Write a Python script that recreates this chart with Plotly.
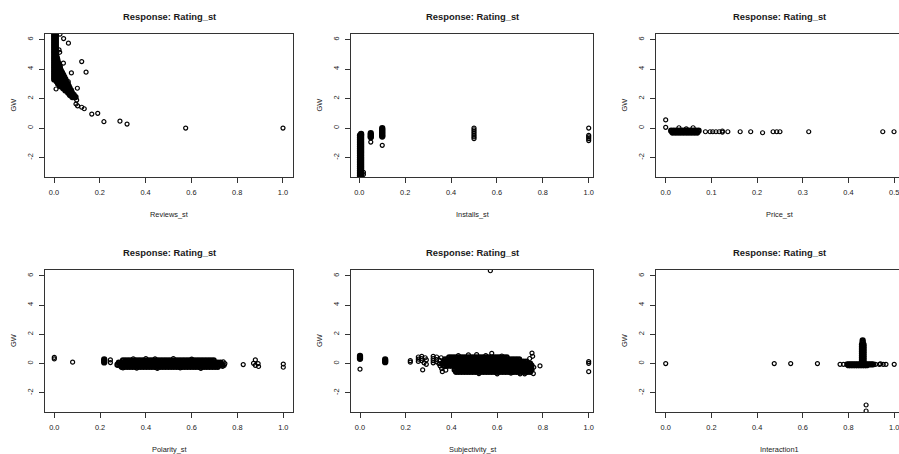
import plotly.graph_objects as go

# ------------------------------------------------------------------
# Partial-residual style scatter: GW against each standardised predictor
# Dense clusters are stored as rows of points sharing one GW reading,
# isolated points as plain x / GW lists.
# ------------------------------------------------------------------

# Reviews_st
reviews_rows = [
    (6.45, [0.001, 0.008]), (6.30, [0.001, 0.008]), (6.15, [0.001, 0.008]),
    (6.00, [0.001, 0.008]), (5.85, [0.001, 0.008]), (5.70, [0.001, 0.008]),
    (5.55, [0.001, 0.008]), (5.40, [0.001, 0.008]), (5.25, [0.001, 0.008]),
    (5.10, [0.001, 0.008]), (4.95, [0.001, 0.008]),
    (4.80, [0.001, 0.008, 0.012]),
    (4.65, [0.001, 0.008, 0.014]),
    (4.50, [0.001, 0.008, 0.016]),
    (4.35, [0.001, 0.008, 0.015, 0.021]),
    (4.20, [0.001, 0.008, 0.017, 0.025]),
    (4.05, [0.001, 0.008, 0.016, 0.026]),
    (3.90, [0.001, 0.008, 0.020, 0.030]),
    (3.75, [0.001, 0.008, 0.016, 0.026, 0.035]),
    (3.60, [0.001, 0.008, 0.020, 0.030, 0.040]),
    (3.45, [0.001, 0.008, 0.016, 0.026, 0.036, 0.045]),
    (3.30, [0.001, 0.008, 0.020, 0.030, 0.040, 0.050]),
    (3.15, [0.012, 0.022, 0.032, 0.042, 0.052]),
    (3.00, [0.018, 0.028, 0.038, 0.048, 0.060]),
    (2.85, [0.026, 0.036, 0.046, 0.056, 0.064]),
    (2.70, [0.040, 0.050, 0.060, 0.068]),
    (2.55, [0.050, 0.058, 0.066, 0.074]),
    (2.40, [0.062, 0.070, 0.078]),
    (2.25, [0.070, 0.078, 0.086]),
    (2.10, [0.080, 0.088, 0.094]),
]
reviews_x = [0.026, 0.042, 0.063, 0.022, 0.025, 0.041, 0.121, 0.140, 0.076,
             0.062, 0.102, 0.009, 0.074, 0.092, 0.099, 0.096, 0.103, 0.121,
             0.132, 0.165, 0.191, 0.218, 0.288, 0.319, 0.575, 1.000]
reviews_gw = [6.37, 6.07, 5.76, 5.30, 5.14, 4.40, 4.51, 3.79, 3.74,
              3.15, 2.70, 2.65, 2.36, 2.13, 1.90, 1.63, 1.50, 1.41,
              1.31, 0.95, 1.00, 0.43, 0.47, 0.27, 0.00, 0.00]

# Installs_st
installs_rows = [
    (-0.40, [0.008]),
    (-0.50, [0.003, 0.008]), (-0.65, [0.003, 0.008]), (-0.80, [0.003, 0.008]),
    (-0.95, [0.003, 0.008]), (-1.10, [0.003, 0.008]), (-1.25, [0.003, 0.008]),
    (-1.40, [0.003, 0.008]), (-1.55, [0.003, 0.008]), (-1.70, [0.003, 0.008]),
    (-1.85, [0.003, 0.008]), (-2.00, [0.003, 0.008]), (-2.15, [0.003, 0.008]),
    (-2.30, [0.003, 0.008]), (-2.45, [0.003, 0.008]), (-2.60, [0.003, 0.008]),
    (-2.75, [0.003, 0.008]), (-2.90, [0.003, 0.008]), (-3.05, [0.003, 0.008]),
    (-3.20, [0.003, 0.008]), (-3.35, [0.003, 0.008]), (-3.50, [0.003, 0.008]),
    (-0.35, [0.05]), (-0.45, [0.05]), (-0.55, [0.05]), (-0.63, [0.05]),
    (0.00, [0.10]), (-0.10, [0.10]), (-0.20, [0.10]), (-0.30, [0.10]),
    (-0.40, [0.10]), (-0.50, [0.10]), (-0.58, [0.10]),
]
installs_x = [0.018, 0.018, 0.05, 0.10,
              0.50, 0.50, 0.50, 0.50, 0.50, 0.50, 0.50,
              1.00, 1.00, 1.00, 1.00, 1.00]
installs_gw = [-3.00, -3.15, -0.95, -1.17,
               0.00, -0.12, -0.24, -0.36, -0.48, -0.60, -0.72,
               0.00, -0.50, -0.60, -0.72, -0.85]

# Price_st
price_rows = [
    (-0.18, [0.012, 0.018, 0.024, 0.030, 0.036, 0.042, 0.048, 0.054, 0.060, 0.066, 0.072]),
    (-0.30, [0.015, 0.021, 0.027, 0.033, 0.039, 0.045, 0.051, 0.057, 0.063, 0.069]),
]
price_x = [0.0, 0.0, 0.029, 0.060, 0.045, 0.087, 0.097, 0.103, 0.110, 0.117,
           0.124, 0.124, 0.136, 0.163, 0.186, 0.212, 0.235, 0.243, 0.250,
           0.313, 0.475, 0.4996]
price_gw = [0.55, 0.05, 0.02, 0.02, -0.05, -0.25, -0.25, -0.25, -0.25, -0.25,
            -0.20, -0.27, -0.25, -0.25, -0.25, -0.32, -0.25, -0.25, -0.25,
            -0.25, -0.25, -0.25]

# Polarity_st
polarity_rows = [
    (0.22, [0.300, 0.312, 0.324, 0.336, 0.348, 0.360, 0.372, 0.384, 0.396, 0.408,
            0.420, 0.432, 0.444, 0.456, 0.468, 0.480, 0.492, 0.504, 0.516, 0.528,
            0.540, 0.552, 0.564, 0.576, 0.588, 0.600, 0.612, 0.624, 0.636, 0.648,
            0.660, 0.672, 0.684, 0.696]),
    (0.07, [0.282, 0.294, 0.306, 0.318, 0.330, 0.342, 0.354, 0.366, 0.378, 0.390,
            0.402, 0.414, 0.426, 0.438, 0.450, 0.462, 0.474, 0.486, 0.498, 0.510,
            0.522, 0.534, 0.546, 0.558, 0.570, 0.582, 0.594, 0.606, 0.618, 0.630,
            0.642, 0.654, 0.666, 0.678, 0.690, 0.702, 0.714, 0.726]),
    (-0.08, [0.276, 0.288, 0.300, 0.312, 0.324, 0.336, 0.348, 0.360, 0.372, 0.384,
             0.396, 0.408, 0.420, 0.432, 0.444, 0.456, 0.468, 0.480, 0.492, 0.504,
             0.516, 0.528, 0.540, 0.552, 0.564, 0.576, 0.588, 0.600, 0.612, 0.624,
             0.636, 0.648, 0.660, 0.672, 0.684, 0.696, 0.708, 0.720, 0.732]),
    (-0.22, [0.294, 0.306, 0.318, 0.330, 0.342, 0.354, 0.366, 0.378, 0.390, 0.402,
             0.414, 0.426, 0.438, 0.450, 0.462, 0.474, 0.486, 0.498, 0.510, 0.522,
             0.534, 0.546, 0.558, 0.570, 0.582, 0.594, 0.606, 0.618, 0.630, 0.642,
             0.654, 0.666, 0.678, 0.690, 0.702, 0.714]),
    (0.28, [0.218]), (0.18, [0.218]), (0.08, [0.218]),
]
polarity_x = [0.0, 0.0, 0.08, 0.245, 0.245,
              0.345, 0.40, 0.44, 0.52, 0.60, 0.30, 0.36, 0.45, 0.55, 0.64,
              0.738, 0.745, 0.742, 0.735, 0.825, 0.878, 0.870, 0.890, 0.878,
              0.892, 1.0, 1.0]
polarity_gw = [0.42, 0.32, 0.10, 0.25, 0.07,
               0.33, 0.35, 0.32, 0.35, 0.30, -0.30, -0.32, -0.33, -0.30, -0.33,
               0.12, 0.00, -0.12, -0.20, -0.07, 0.25, 0.02, 0.00, -0.12,
               -0.20, -0.03, -0.25]

# Subjectivity_st
subjectivity_rows = [
    (0.42, [0.390, 0.402, 0.414, 0.426, 0.438, 0.450, 0.462, 0.474, 0.486, 0.498,
            0.510, 0.522, 0.534, 0.546, 0.558, 0.570, 0.582, 0.594, 0.606, 0.618,
            0.630, 0.642]),
    (0.28, [0.372, 0.384, 0.396, 0.408, 0.420, 0.432, 0.444, 0.456, 0.468, 0.480,
            0.492, 0.504, 0.516, 0.528, 0.540, 0.552, 0.564, 0.576, 0.588, 0.600,
            0.612, 0.624, 0.636, 0.648, 0.660, 0.672, 0.684, 0.696]),
    (0.14, [0.366, 0.378, 0.390, 0.402, 0.414, 0.426, 0.438, 0.450, 0.462, 0.474,
            0.486, 0.498, 0.510, 0.522, 0.534, 0.546, 0.558, 0.570, 0.582, 0.594,
            0.606, 0.618, 0.630, 0.642, 0.654, 0.666, 0.678, 0.690, 0.702, 0.714,
            0.726]),
    (0.00, [0.360, 0.372, 0.384, 0.396, 0.408, 0.420, 0.432, 0.444, 0.456, 0.468,
            0.480, 0.492, 0.504, 0.516, 0.528, 0.540, 0.552, 0.564, 0.576, 0.588,
            0.600, 0.612, 0.624, 0.636, 0.648, 0.660, 0.672, 0.684, 0.696, 0.708,
            0.720, 0.732, 0.744]),
    (-0.14, [0.366, 0.378, 0.390, 0.402, 0.414, 0.426, 0.438, 0.450, 0.462, 0.474,
             0.486, 0.498, 0.510, 0.522, 0.534, 0.546, 0.558, 0.570, 0.582, 0.594,
             0.606, 0.618, 0.630, 0.642, 0.654, 0.666, 0.678, 0.690, 0.702, 0.714,
             0.726, 0.738, 0.750]),
    (-0.28, [0.480, 0.492, 0.504, 0.516, 0.528, 0.540, 0.552, 0.564, 0.576, 0.588,
             0.600, 0.612, 0.624, 0.636, 0.648, 0.660, 0.672, 0.684, 0.696, 0.708,
             0.720, 0.732, 0.744]),
    (-0.42, [0.414, 0.426, 0.438, 0.450, 0.462, 0.474, 0.486, 0.498, 0.510, 0.522,
             0.534, 0.546, 0.558, 0.570, 0.582, 0.594, 0.606, 0.618, 0.630, 0.642,
             0.654, 0.666, 0.678, 0.690, 0.702, 0.714, 0.726, 0.738, 0.750]),
    (-0.56, [0.420, 0.432, 0.444, 0.456, 0.468, 0.480, 0.492, 0.504, 0.516, 0.528,
             0.540, 0.552, 0.564, 0.576, 0.588, 0.600, 0.612, 0.624, 0.636, 0.648,
             0.660, 0.672, 0.684, 0.696, 0.708, 0.720, 0.732, 0.744]),
    (0.52, [0.0]), (0.42, [0.0]), (0.33, [0.0]),
    (0.28, [0.11]), (0.18, [0.11]), (0.10, [0.11]),
]
subjectivity_x = [0.0, 0.22, 0.22,
                  0.255, 0.255, 0.255, 0.27, 0.27, 0.27, 0.28, 0.285, 0.29, 0.29, 0.274,
                  0.32, 0.32, 0.32, 0.32, 0.335, 0.335, 0.335, 0.345, 0.35, 0.355, 0.35,
                  0.357, 0.36, 0.375,
                  0.43, 0.474, 0.51, 0.55, 0.576, 0.62,
                  0.52, 0.60, 0.66, 0.70,
                  0.752, 0.755, 0.742, 0.76, 0.758, 0.72, 0.787,
                  0.57, 1.0, 1.0, 1.0]
subjectivity_gw = [-0.38, 0.20, 0.10,
                   0.45, 0.30, 0.15, 0.50, 0.35, 0.20, 0.05, 0.40, 0.25, -0.05, -0.43,
                   0.50, 0.35, 0.20, 0.05, 0.45, 0.28, 0.12, 0.00, -0.15, 0.40, 0.22,
                   -0.34, -0.55, -0.45,
                   0.55, 0.60, 0.62, 0.55, 0.70, 0.52,
                   -0.68, -0.70, -0.66, -0.70,
                   0.72, 0.50, 0.35, -0.25, -0.68, -0.70, -0.16,
                   6.35, 0.14, 0.02, -0.55]

# Interaction1
interaction_rows = [
    (-0.05, [0.795, 0.803, 0.811, 0.819, 0.827, 0.835, 0.843, 0.851, 0.859, 0.867,
             0.875, 0.883, 0.891, 0.899, 0.907]),
    (-0.11, [0.80, 0.81, 0.82, 0.83, 0.84, 0.85, 0.86, 0.87, 0.88]),
    (1.58, [0.862]), (1.45, [0.862]),
    (1.30, [0.859, 0.866]), (1.15, [0.859, 0.866]), (1.00, [0.859, 0.866]),
    (0.85, [0.859, 0.866]), (0.70, [0.859, 0.866]), (0.55, [0.859, 0.866]),
    (0.40, [0.859, 0.866]), (0.25, [0.859, 0.866]), (0.10, [0.859, 0.866]),
]
interaction_x = [0.0, 0.475, 0.547, 0.664, 0.763, 0.778, 0.918, 0.935, 0.940,
                 0.952, 0.964, 1.0, 0.877, 0.877]
interaction_gw = [0.0, 0.0, 0.0, 0.0, -0.05, -0.05, -0.05, -0.05, -0.02,
                  -0.05, -0.05, -0.05, -2.83, -3.24]

panel_title = "Response: Rating_st"
y_label = "GW"
y_ticks = [-2, 0, 2, 4, 6]
y_tick_text = ["-2", "0", "2", "4", "6"]


def unpack_rows(rows):
    px, py = [], []
    for gw, row in rows:
        px.extend(row)
        py.extend([gw] * len(row))
    return px, py


W, H = 899, 454
FONT = "Liberation Sans, Arial, Helvetica, sans-serif"
INK = "#1a1a1a"
LINE = "#333333"

# panel geometry in pixels: (left, right, top, bottom), axis ranges
panels = [
    dict(rows=reviews_rows, xs=reviews_x, gws=reviews_gw, label="Reviews_st",
         box=(45, 293, 34, 177), xr=(-0.0393, 1.0437), yr=(-3.32, 6.38),
         xt=[0, 0.2, 0.4, 0.6, 0.8, 1.0], right=True),
    dict(rows=installs_rows, xs=installs_x, gws=installs_gw, label="Installs_st",
         box=(351, 593, 34, 177), xr=(-0.0362, 1.0187), yr=(-3.32, 6.38),
         xt=[0, 0.2, 0.4, 0.6, 0.8, 1.0], right=True),
    dict(rows=price_rows, xs=price_x, gws=price_gw, label="Price_st",
         box=(656, 899, 34, 177), xr=(-0.0212, 0.5105), yr=(-3.32, 6.38),
         xt=[0, 0.1, 0.2, 0.3, 0.4, 0.5], right=False, center=779.5),
    dict(rows=polarity_rows, xs=polarity_x, gws=polarity_gw, label="Polarity_st",
         box=(45, 293, 270, 412), xr=(-0.0406, 1.0424), yr=(-3.31, 6.40),
         xt=[0, 0.2, 0.4, 0.6, 0.8, 1.0], right=True),
    dict(rows=subjectivity_rows, xs=subjectivity_x, gws=subjectivity_gw,
         label="Subjectivity_st",
         box=(351, 593, 270, 412), xr=(-0.0394, 1.0188), yr=(-3.31, 6.40),
         xt=[0, 0.2, 0.4, 0.6, 0.8, 1.0], right=True),
    dict(rows=interaction_rows, xs=interaction_x, gws=interaction_gw,
         label="Interaction1",
         box=(656, 899, 270, 412), xr=(-0.0425, 1.0210), yr=(-3.31, 6.40),
         xt=[0, 0.2, 0.4, 0.6, 0.8, 1.0], right=False, center=779.5),
]

fig = go.Figure()
annotations = []
layout_axes = {}

for i, p in enumerate(panels, start=1):
    sx = "" if i == 1 else str(i)
    xa, ya = "x" + sx, "y" + sx
    left, right, top, bottom = p["box"]
    # overplotted cluster: heavier stroke, as stacked circles ink together
    cx_, cy_ = unpack_rows(p["rows"])
    fig.add_trace(go.Scatter(
        x=cx_, y=cy_, mode="markers", xaxis=xa, yaxis=ya, showlegend=False,
        hoverinfo="skip",
        marker=dict(symbol="circle-open", size=4, color="black",
                    line=dict(width=2.3, color="black")),
    ))
    # isolated observations
    fig.add_trace(go.Scatter(
        x=p["xs"], y=p["gws"], mode="markers", xaxis=xa, yaxis=ya,
        showlegend=False, hoverinfo="skip",
        marker=dict(symbol="circle-open", size=4, color="black",
                    line=dict(width=1.2, color="black")),
    ))
    tick_font = dict(family=FONT, size=7.4, color=INK)
    layout_axes["xaxis" + sx] = dict(
        domain=[left / W, right / W], range=list(p["xr"]), anchor=ya,
        showline=True, linecolor=LINE, linewidth=1, mirror=True,
        ticks="outside", ticklen=5, tickwidth=1, tickcolor=LINE,
        tickvals=p["xt"], ticktext=["%.1f" % v for v in p["xt"]],
        tickfont=tick_font, ticklabelstandoff=3, ticklabeloverflow="allow",
        showgrid=False, zeroline=False, fixedrange=True,
    )
    layout_axes["yaxis" + sx] = dict(
        domain=[1 - bottom / H, 1 - top / H], range=list(p["yr"]), anchor=xa,
        showline=True, linecolor=LINE, linewidth=1,
        mirror=True if p["right"] else False,
        ticks="outside", ticklen=5, tickwidth=1, tickcolor=LINE,
        tickvals=y_ticks, ticktext=y_tick_text, tickangle=-90,
        tickfont=tick_font, ticklabelstandoff=3,
        showgrid=False, zeroline=False, fixedrange=True,
    )
    cx = p.get("center", (left + right) / 2)
    annotations.append(dict(
        text="<b>%s</b>" % panel_title, x=cx / W, y=1 - (top - 18) / H,
        xref="paper", yref="paper", showarrow=False, xanchor="center",
        yanchor="middle", font=dict(family=FONT, size=9.4, color=INK)))
    annotations.append(dict(
        text=p["label"], x=cx / W, y=1 - (bottom + 37) / H,
        xref="paper", yref="paper", showarrow=False, xanchor="center",
        yanchor="middle", font=dict(family=FONT, size=7.4, color=INK)))
    annotations.append(dict(
        text=y_label, x=(left - 32) / W, y=1 - ((top + bottom) / 2) / H,
        xref="paper", yref="paper", showarrow=False, xanchor="center",
        yanchor="middle", textangle=-90,
        font=dict(family=FONT, size=7.4, color=INK)))

fig.update_layout(
    width=W, height=H, margin=dict(l=0, r=0, t=0, b=0),
    paper_bgcolor="white", plot_bgcolor="white",
    annotations=annotations, **layout_axes,
)

fig.write_html("out.html", config={"displayModeBar": False})
